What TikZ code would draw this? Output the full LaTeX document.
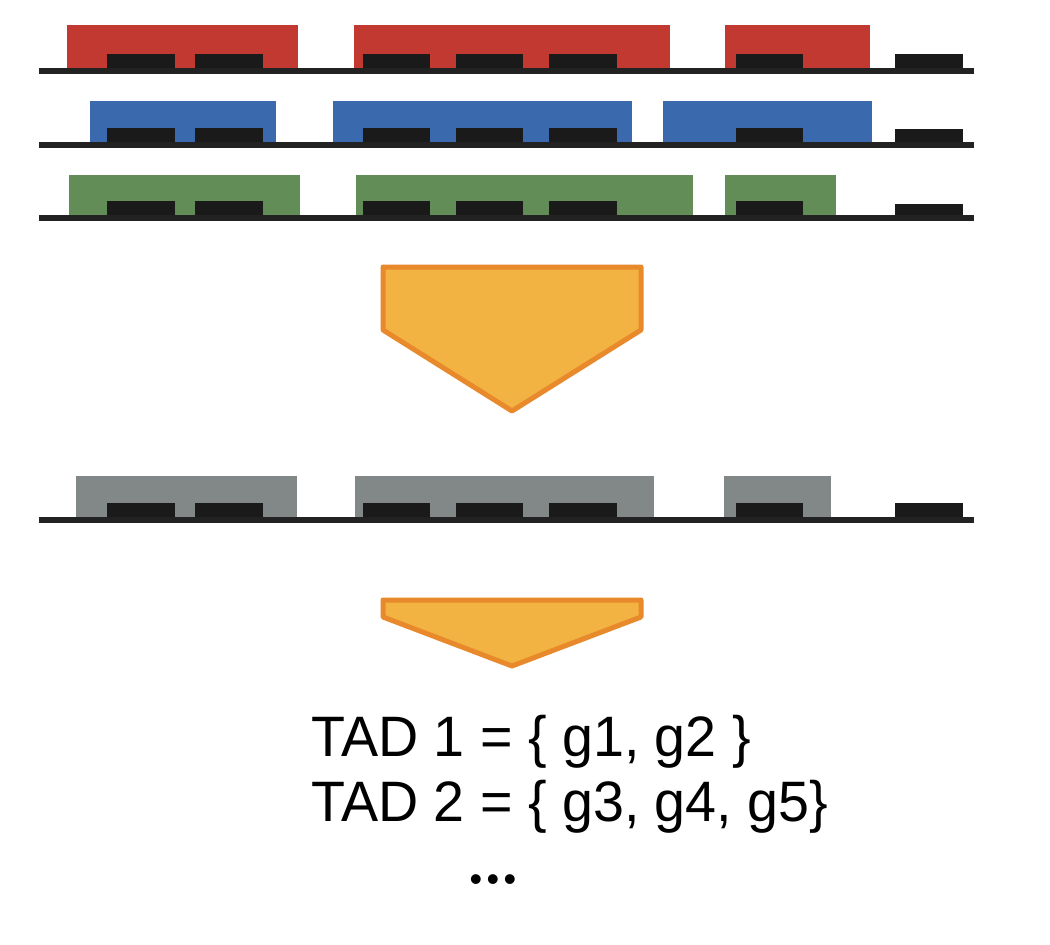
\documentclass[tikz,border=0pt]{standalone}
\usepackage{graphicx}
\usepackage{fontspec}
\setmainfont{Liberation Sans}
\definecolor{tadred}{RGB}{194,57,50}
\definecolor{tadblue}{RGB}{58,105,174}
\definecolor{tadgreen}{RGB}{99,141,87}
\definecolor{tadgray}{RGB}{130,135,136}
\definecolor{genek}{RGB}{26,26,26}
\definecolor{basek}{RGB}{34,34,34}
\definecolor{arrfill}{RGB}{242,179,66}
\definecolor{arrdraw}{RGB}{232,137,43}
\tikzset{
  genebox/.style={fill=genek},
  baseline bar/.style={fill=basek},
  bigarrow/.style={fill=arrfill,draw=arrdraw,line width=5pt,line join=round},
  tadtext/.style={font=\fontsize{57}{65}\selectfont,inner sep=0pt}
}
\newcommand{\generow}[3]{%
  \foreach \a/\b in {107/175,195/263,363/430,456/523,549/617,736/803}{
    \fill[genebox] (\a,#2) rectangle (\b,#1+1);
  }
  \fill[genebox] (895,#3) rectangle (963,#1+1);
  \fill[baseline bar] (39,#1) rectangle (974,#1+6);
}
\begin{document}
\begin{tikzpicture}[x=1pt,y=-1pt]
\useasboundingbox (0,0) rectangle (1050,945);
% row 1 red
\foreach \a/\b in {67/298,354/670,725/870}{\fill[tadred] (\a,25) rectangle (\b,69);}
\generow{68}{54}{54}
% row 2 blue
\foreach \a/\b in {90/276,333/632,663/872}{\fill[tadblue] (\a,101) rectangle (\b,143);}
\generow{142}{128}{129}
% row 3 green
\foreach \a/\b in {69/300,356/693,725/836}{\fill[tadgreen] (\a,175) rectangle (\b,216);}
\generow{215}{201}{204}
% arrow 1
\draw[bigarrow] (383,267) -- (641,267) -- (641,330) -- (512,411) -- (383,330) -- cycle;
% row 4 gray
\foreach \a/\b in {76/297,355/654,724/831}{\fill[tadgray] (\a,476) rectangle (\b,518);}
\generow{517}{503}{503}
% arrow 2
\draw[bigarrow] (383,600) -- (641,600) -- (641,617) -- (512,666) -- (383,617) -- cycle;
% text
\node[tadtext,anchor=base west] (tad1) at (311,756) {\scalebox{0.976}[1]{TAD 1 = \{ g1, g2 \}}};
\node[tadtext,anchor=base west] (tad2) at (311,821) {\scalebox{0.976}[1]{TAD 2 = \{ g3, g4, g5\}}};
\node[inner sep=0pt,font=\fontsize{36}{36}\selectfont] (dots) at (493,883.5) {•\hspace{4.4pt}•\hspace{4.4pt}•};
\end{tikzpicture}
\end{document}
